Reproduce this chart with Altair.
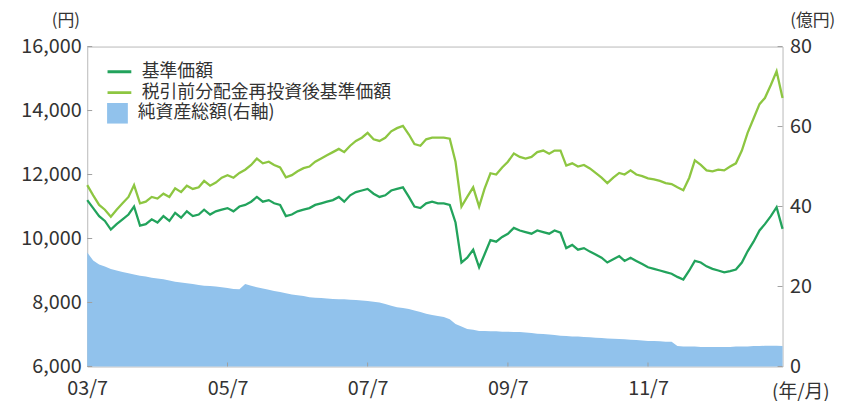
import altair as alt
import pandas as pd

# ---------------- data (monthly 2003/7 .. 2013/6) ----------------
months = pd.date_range("2003-07-01", periods=120, freq="MS")

nav = [
    11200, 10950, 10700, 10550, 10280, 10450, 10600, 10750, 11000, 10400, 10450, 10600,
    10500, 10700, 10550, 10800, 10650, 10850, 10700, 10750, 10900, 10750, 10850, 10900,
    10950, 10850, 11000, 11050, 11150, 11300, 11150, 11200, 11100, 11050, 10700, 10750,
    10850, 10900, 10950, 11050, 11100, 11150, 11200, 11300, 11150, 11350, 11450, 11500,
    11550, 11400, 11300, 11350, 11500, 11550, 11600, 11300, 11000, 10950, 11100, 11150,
    11100, 11100, 11050, 10500, 9250, 9400, 9650, 9100, 9500, 9950, 9900, 10050,
    10150, 10330, 10250, 10200, 10150, 10250, 10200, 10150, 10250, 10180, 9700, 9800,
    9650, 9700, 9590, 9500, 9400, 9250, 9350, 9450, 9300, 9400, 9300, 9200,
    9100, 9050, 9000, 8950, 8900, 8800, 8720, 9000, 9300, 9250, 9130, 9050,
    9000, 8940, 8980, 9030, 9250, 9600, 9900, 10250, 10450, 10700, 10980, 10300,
]

nav_reinvested = [
    11670, 11350, 11050, 10900, 10680, 10900, 11100, 11300, 11670, 11100, 11150, 11300,
    11250, 11400, 11300, 11570, 11450, 11650, 11550, 11600, 11800, 11650, 11750, 11900,
    11980, 11900, 12050, 12150, 12300, 12500, 12350, 12400, 12300, 12220, 11910, 11980,
    12100, 12200, 12250, 12400, 12500, 12600, 12700, 12800, 12700, 12900, 13050, 13150,
    13300, 13100, 13050, 13150, 13350, 13450, 13520, 13250, 12950, 12900, 13100, 13150,
    13150, 13150, 13120, 12400, 11000, 11300, 11600, 11000, 11550, 12040, 12000, 12220,
    12400, 12660, 12550, 12500, 12550, 12700, 12750, 12650, 12750, 12750, 12280, 12350,
    12250, 12300, 12190, 12050, 11900, 11730, 11900, 12050, 12000, 12130, 12000, 11950,
    11880, 11850, 11800, 11730, 11700, 11600, 11510, 11900, 12440, 12300, 12130, 12100,
    12150, 12130, 12250, 12350, 12750, 13300, 13750, 14200, 14390, 14800, 15230, 14390,
]

net_assets = [
    28.5, 26.5, 25.5, 25.0, 24.4, 24.0, 23.6, 23.3, 23.0, 22.7, 22.5, 22.2,
    22.0, 21.8, 21.5, 21.2, 21.0, 20.8, 20.6, 20.4, 20.2, 20.1, 20.0, 19.8,
    19.6, 19.4, 19.3, 20.6, 20.2, 19.8, 19.5, 19.2, 18.9, 18.6, 18.3, 18.0,
    17.8, 17.6, 17.3, 17.2, 17.1, 17.0, 16.9, 16.8, 16.8, 16.7, 16.6, 16.5,
    16.4, 16.2, 16.0, 15.6, 15.2, 14.8, 14.6, 14.4, 14.0, 13.6, 13.2, 12.9,
    12.6, 12.4, 11.8, 10.6, 10.0, 9.4, 9.2, 8.9, 8.9, 8.8, 8.8, 8.7,
    8.7, 8.6, 8.6, 8.5, 8.4, 8.2, 8.1, 8.0, 7.9, 7.7, 7.6, 7.5,
    7.5, 7.4, 7.3, 7.2, 7.1, 7.0, 6.95, 6.9, 6.8, 6.7, 6.6, 6.5,
    6.4, 6.35, 6.3, 6.2, 6.2, 5.1, 5.0, 5.0, 5.0, 4.9, 4.9, 4.9,
    4.9, 4.9, 4.9, 5.0, 5.0, 5.0, 5.1, 5.1, 5.2, 5.2, 5.2, 5.1,
]

series_names = ["基準価額", "税引前分配金再投資後基準価額"]
area_name = "純資産総額(右軸)"
left_ticks = [6000, 8000, 10000, 12000, 14000, 16000]
right_ticks = [0, 20, 40, 60, 80]
x_tick_years = [2003, 2005, 2007, 2009, 2011]

# ---------------- tables ----------------
lines_df = pd.DataFrame({
    "date": list(months) * 2,
    "value": nav + nav_reinvested,
    "series": [series_names[0]] * len(nav) + [series_names[1]] * len(nav_reinvested),
})
area_df = pd.DataFrame({"date": months, "aum": net_assets, "label": area_name})
left_tick_df = pd.DataFrame({"value": left_ticks})
right_tick_df = pd.DataFrame({"aum": right_ticks})
x_tick_df = pd.DataFrame({"date": pd.to_datetime([f"{y}-07-01" for y in x_tick_years[1:]])})

FONT = "Noto Sans CJK JP"
TXT = "#333333"
W, H = 702, 323

x_scale = alt.Scale(domain=[alt.DateTime(year=2003, month=7, date=1),
                            alt.DateTime(year=2013, month=6, date=1)])
x_axis = alt.Axis(
    values=[alt.DateTime(year=y, month=7, date=1) for y in x_tick_years],
    format="%y/%-m", labelFlush=False, labelFontSize=20, labelPadding=12,
    ticks=False, domain=False, grid=False,
    title="(年/月)", titleAngle=0, titleX=720, titleY=25, titleAlign="center",
    titleBaseline="middle", titleFontSize=19, titleFontWeight="normal",
)
x_enc = alt.X("date:T", scale=x_scale, axis=x_axis)

left_scale = alt.Scale(domain=[6000, 16000], nice=False, zero=False)
left_axis = alt.Axis(
    orient="left", values=left_ticks, format=",d", labelFontSize=20, labelPadding=6,
    ticks=False, domain=False, grid=False,
    title="(円)", titleAngle=0, titleX=-22, titleY=-17, titleAlign="center",
    titleBaseline="bottom", titleFontSize=17, titleFontWeight="normal",
)
right_scale = alt.Scale(domain=[0, 80], nice=False)
right_axis = alt.Axis(
    orient="right", values=right_ticks, labelFontSize=20, labelPadding=7,
    ticks=False, domain=False, grid=False,
    title="(億円)", titleAngle=0, titleX=30, titleY=-17, titleAlign="center",
    titleBaseline="bottom", titleFontSize=17, titleFontWeight="normal",
)

area = alt.Chart(area_df).mark_area(opacity=1, interpolate="linear").encode(
    x=x_enc,
    y=alt.Y("aum:Q", scale=right_scale, axis=right_axis),
    fill=alt.Fill("label:N", scale=alt.Scale(domain=[area_name], range=["#91c2ec"]),
                  legend=alt.Legend(orient="none", legendX=20, legendY=57, title=None,
                                    symbolType="square", symbolSize=441, symbolStrokeWidth=0,
                                    clipHeight=21, labelOffset=10, labelFontSize=18,
                                    labelLimit=0, labelFont=FONT, labelColor=TXT, padding=0)),
)
right_tick_marks = alt.Chart(right_tick_df).mark_rule(color="#a0a0a0", strokeWidth=1).encode(
    y=alt.Y("aum:Q", scale=right_scale, axis=right_axis),
    x=alt.value(W - 5), x2=alt.value(W),
)

lines = alt.Chart(lines_df).mark_line(strokeWidth=2.3).encode(
    x=x_enc,
    y=alt.Y("value:Q", scale=left_scale, axis=left_axis),
    color=alt.Color("series:N",
                    scale=alt.Scale(domain=series_names, range=["#22a35c", "#8dc641"]),
                    sort=series_names,
                    legend=alt.Legend(orient="none", legendX=19, legendY=15, title=None,
                                      symbolType="stroke", symbolSize=576, symbolStrokeWidth=3,
                                      clipHeight=21, rowPadding=0, labelOffset=9,
                                      labelFontSize=18, labelLimit=0, labelFont=FONT,
                                      labelColor=TXT, padding=0)),
    order=alt.Order("date:T"),
)
left_tick_marks = alt.Chart(left_tick_df).mark_rule(color="#a0a0a0", strokeWidth=1).encode(
    y=alt.Y("value:Q", scale=left_scale, axis=left_axis),
    x=alt.value(0), x2=alt.value(5),
)
bottom_tick_marks = alt.Chart(x_tick_df).mark_rule(color="#a0a0a0", strokeWidth=1).encode(
    x=x_enc,
    y=alt.value(H - 4), y2=alt.value(H),
)

right_group = alt.layer(area, right_tick_marks)
left_group = alt.layer(lines, left_tick_marks, bottom_tick_marks)

chart = alt.layer(right_group, left_group).resolve_scale(
    y="independent"
).properties(
    width=W, height=H,
    autosize=alt.AutoSizeParams(type="none"),
    padding={"left": 80, "top": 37, "right": 57, "bottom": 40},
).configure_view(
    stroke="#b8b8b8", strokeWidth=1
).configure_axis(
    labelFont=FONT, titleFont=FONT, labelColor=TXT, titleColor=TXT
).configure_legend(
    labelFont=FONT, labelColor=TXT
)

chart.save("out.html", embed_options={"renderer": "svg", "actions": False})
